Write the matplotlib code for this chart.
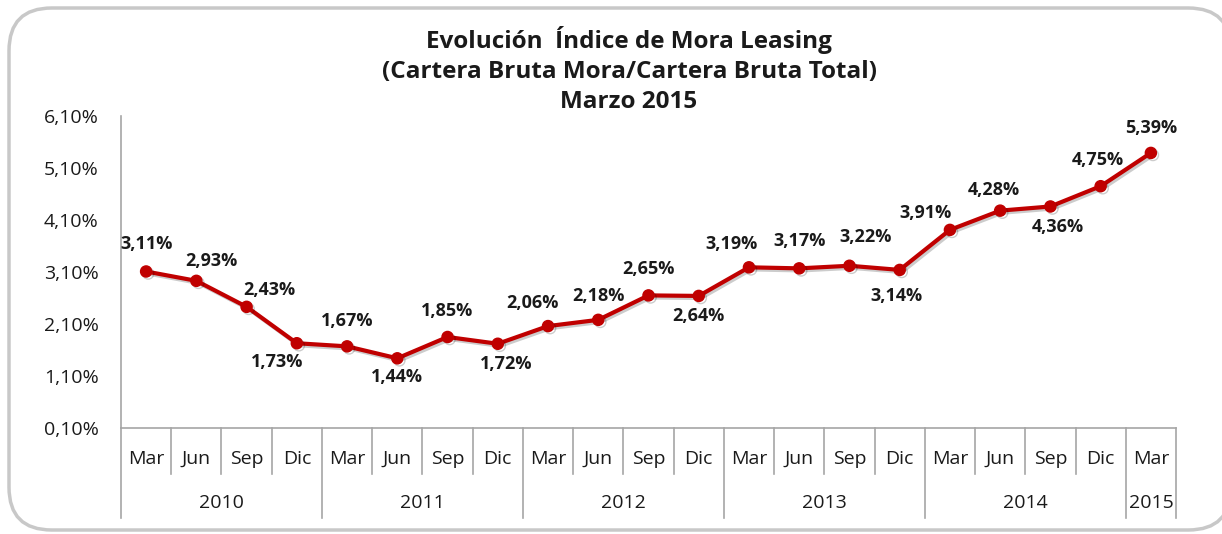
import matplotlib.pyplot as plt
import matplotlib.patheffects as pe
from matplotlib.patches import FancyBboxPatch

months = ["Mar", "Jun", "Sep", "Dic"] * 5 + ["Mar"]
years = ["2010", "2011", "2012", "2013", "2014", "2015"]
year_counts = [4, 4, 4, 4, 4, 1]
mora = [3.11, 2.93, 2.43, 1.73, 1.67, 1.44, 1.85, 1.72, 2.06, 2.18, 2.65,
        2.64, 3.19, 3.17, 3.22, 3.14, 3.91, 4.28, 4.36, 4.75, 5.39]
yticks = [0.10, 1.10, 2.10, 3.10, 4.10, 5.10, 6.10]

# data label offsets in pixels (dx, dy), as placed in the original
label_offsets = [(0, 27), (15, 20), (23, 17), (-20, -19), (0, 25), (0, -19),
                 (0, 26), (8, -20), (-16, 23), (0, 24), (0, 26), (0, -20),
                 (-17, 23), (0, 27), (16, 29), (-3, -26), (-24, 17), (-6, 21),
                 (7, -21), (-3, 26), (0, 25)]

plt.rcParams["font.family"] = ["Open Sans", "DejaVu Sans"]
TXT = "#1a1a1a"
AXC = "#a6a6a6"

fig = plt.figure(figsize=(12.22, 5.34), dpi=100)
fig.patches.append(FancyBboxPatch(
    (9 / 1222, 4 / 534), 1222 / 1222, 522 / 534,
    boxstyle="round,pad=0,rounding_size=0.035",
    transform=fig.transFigure, facecolor="white", edgecolor="#c8c8c8",
    linewidth=2.5, mutation_aspect=1222 / 534, zorder=-5))

ax = fig.add_axes([121 / 1222, 1 - 428 / 534, 1055 / 1222, 312 / 534])
ax.patch.set_visible(False)
x = list(range(len(mora)))
ax.plot(x, mora, color="#c00000", linewidth=3, marker="o", markersize=8,
        solid_capstyle="round", zorder=3,
        path_effects=[pe.SimpleLineShadow(offset=(1.5, -1.5), alpha=0.2), pe.Normal()])

for xi, v, (dx, dy) in zip(x, mora, label_offsets):
    ax.annotate(f"{v:.2f}%".replace(".", ","), (xi, v), xytext=(dx, dy),
                textcoords="offset pixels", ha="center", va="center",
                fontsize=13, fontweight="bold", color=TXT, zorder=4)

ax.set_xlim(-0.5, len(mora) - 0.5)
ax.set_ylim(0.10, 6.10)
ax.set_yticks(yticks)
ax.set_yticklabels([f"{t:.2f}%".replace(".", ",") for t in yticks],
                   fontsize=14, color=TXT)
ax.tick_params(axis="y", length=0, pad=16)
ax.set_xticks([])
for sp in ["top", "right"]:
    ax.spines[sp].set_visible(False)
for sp in ["left", "bottom"]:
    ax.spines[sp].set_color(AXC)
    ax.spines[sp].set_linewidth(1.2)

# two-level category axis
tr = ax.get_xaxis_transform()
h1 = -46 / 312
h2 = -90 / 312
for i, m in enumerate(months):
    ax.text(i, -31 / 312, m, transform=tr, ha="center", va="center",
            fontsize=14, color=TXT)
bounds = [0]
for c in year_counts:
    bounds.append(bounds[-1] + c)
for k in range(len(months) + 1):
    low = h2 if k in bounds else h1
    ax.plot([k - 0.5, k - 0.5], [0, low], transform=tr, color=AXC,
            linewidth=1.2, clip_on=False)
for yr, a, b in zip(years, bounds[:-1], bounds[1:]):
    ax.text((a + b - 1) / 2, -75 / 312, yr, transform=tr, ha="center",
            va="center", fontsize=14, color=TXT)

title = "Evolución  Índice de Mora Leasing\n(Cartera Bruta Mora/Cartera Bruta Total)\nMarzo 2015"
fig.text(629 / 1222, 1 - 70 / 534, title, ha="center", va="center",
         fontsize=17.5, fontweight="bold", color=TXT, linespacing=1.32)

fig.savefig("out.png", dpi=100)
